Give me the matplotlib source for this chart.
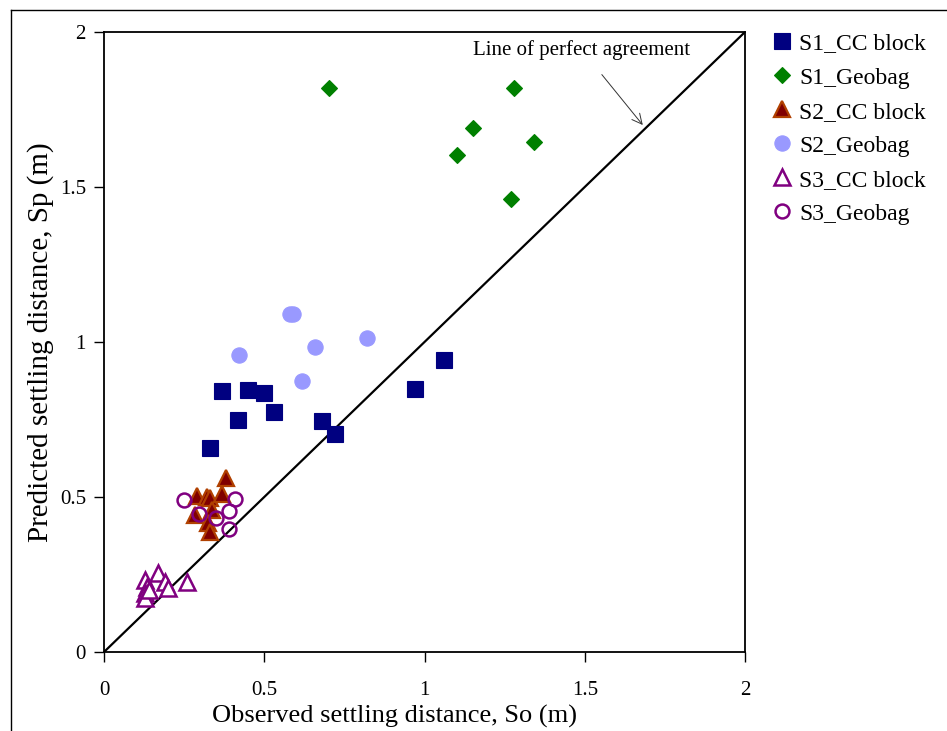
import matplotlib
matplotlib.use("Agg")
import matplotlib.pyplot as plt
from matplotlib.lines import Line2D
from matplotlib.ticker import FuncFormatter

plt.rcParams['font.family'] = ['Liberation Serif', 'DejaVu Serif']

# Observed (So) and predicted (Sp) settling distances, metres
s1_cc_obs = [0.331, 0.368, 0.418, 0.449, 0.499, 0.530, 0.680, 0.721, 0.970, 1.061]
s1_cc_pred = [0.658, 0.842, 0.748, 0.845, 0.835, 0.774, 0.745, 0.703, 0.848, 0.942]

s1_geo_obs = [0.702, 1.279, 1.151, 1.101, 1.342, 1.270]
s1_geo_pred = [1.819, 1.819, 1.690, 1.603, 1.645, 1.461]

s2_cc_obs = [0.382, 0.289, 0.320, 0.331, 0.367, 0.336, 0.284, 0.325, 0.331]
s2_cc_pred = [0.560, 0.503, 0.501, 0.496, 0.509, 0.458, 0.442, 0.415, 0.388]

s2_geo_obs = [0.421, 0.580, 0.590, 0.658, 0.618, 0.821]
s2_geo_pred = [0.958, 1.090, 1.090, 0.984, 0.874, 1.013]

s3_cc_obs = [0.170, 0.128, 0.190, 0.258, 0.133, 0.200, 0.128, 0.128, 0.140]
s3_cc_pred = [0.254, 0.232, 0.227, 0.227, 0.211, 0.206, 0.190, 0.174, 0.200]

s3_geo_obs = [0.250, 0.409, 0.297, 0.389, 0.349, 0.389]
s3_geo_pred = [0.491, 0.493, 0.445, 0.456, 0.432, 0.396]

ticks = [0, 0.5, 1, 1.5, 2]

W, H = 947, 731
fig = plt.figure(figsize=(W / 100, H / 100), dpi=100)
ax = fig.add_axes([104 / W, 1 - 652 / H, (745 - 104) / W, (652 - 32) / H])

# outer chart-area border (left and top edges)
fig.add_artist(Line2D([11 / W, 11 / W], [0, 1 - 10 / H], transform=fig.transFigure,
                      color='black', lw=1.0))
fig.add_artist(Line2D([11 / W, 1], [1 - 10 / H, 1 - 10 / H], transform=fig.transFigure,
                      color='black', lw=1.0))

# 1:1 line
ax.plot([0, 2], [0, 2], color='black', lw=1.6, zorder=2)

ax.plot(s1_cc_obs, s1_cc_pred, ls='none', marker='s', ms=11, mfc='#000080',
        mec='#000080', mew=0.8, label='S1_CC block', zorder=3)
ax.plot(s1_geo_obs, s1_geo_pred, ls='none', marker='D', ms=8, mfc='#008000',
        mec='#008000', mew=0.8, label='S1_Geobag', zorder=3)
ax.plot(s2_cc_obs, s2_cc_pred, ls='none', marker='^', ms=12, mfc='#800000',
        mec='#B04000', mew=1.6, label='S2_CC block', zorder=4)
ax.plot(s2_geo_obs, s2_geo_pred, ls='none', marker='o', ms=11, mfc='#9999FF',
        mec='#9999FF', mew=0.8, label='S2_Geobag', zorder=3)
ax.plot(s3_cc_obs, s3_cc_pred, ls='none', marker='^', ms=11.5, mfc='white',
        mec='#800080', mew=1.8, label='S3_CC block', zorder=4)
ax.plot(s3_geo_obs, s3_geo_pred, ls='none', marker='o', ms=10, mfc='none',
        mec='#800080', mew=1.8, label='S3_Geobag', zorder=5)

ax.annotate('Line of perfect agreement', xy=(1.681, 1.700), xytext=(1.491, 1.942),
            ha='center', va='center', fontsize=15,
            arrowprops=dict(arrowstyle='->', color='#333333', lw=0.7,
                            shrinkA=11, shrinkB=0, mutation_scale=18))

ax.set_xlim(0, 2)
ax.set_ylim(0, 2)
ax.set_xticks(ticks)
ax.set_yticks(ticks)
fmt = FuncFormatter(lambda v, p: f'{v:g}')
ax.xaxis.set_major_formatter(fmt)
ax.yaxis.set_major_formatter(fmt)
ax.tick_params(direction='out', length=7, width=1.0, labelsize=15)
ax.tick_params(axis='x', pad=14)
ax.tick_params(axis='y', pad=6)
for sp in ax.spines.values():
    sp.set_linewidth(1.3)

ax.set_xlabel('Observed settling distance, So (m)', fontsize=19, labelpad=2)
ax.xaxis.set_label_coords((394 - 104) / (745 - 104), -0.085)
ax.set_ylabel('Predicted settling distance, Sp (m)', fontsize=21, labelpad=4)

ax.legend(loc='upper left', bbox_to_anchor=(773 / W, 1 - 33 / H),
          bbox_transform=fig.transFigure, frameon=False, fontsize=17,
          handlelength=0.8, handletextpad=0.3, labelspacing=0.53,
          borderpad=0, borderaxespad=0)

fig.savefig('out.png', dpi=100, facecolor='white')
